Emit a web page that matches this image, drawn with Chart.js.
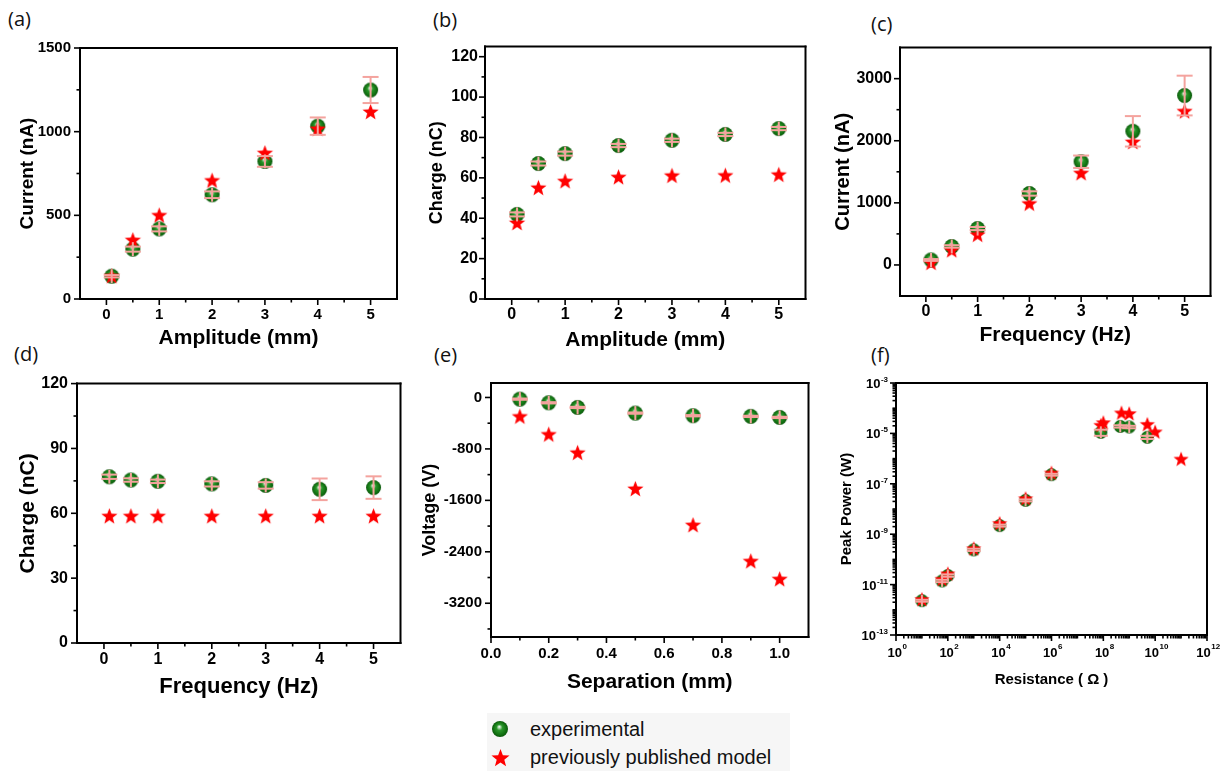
<!DOCTYPE html>
<html>
<head>
<meta charset="utf-8">
<script src="https://cdn.jsdelivr.net/npm/chart.js@4.4.1/dist/chart.umd.min.js"></script>
<style>
  body { margin: 0; background: #fff; width: 1227px; height: 771px; position: relative; overflow: hidden; font-family: 'Liberation Sans', Arial, sans-serif; }
  .tag { position: absolute; font: 20px 'Open Sans', sans-serif; line-height: 1; color: #111; }
  #legend { position: absolute; left: 487px; top: 713px; width: 303px; height: 58px; background: #f6f6f6; }
  #legend canvas { position: absolute; }
  #legend span { position: absolute; left: 43px; font: 20px 'Liberation Sans', Arial, sans-serif; color: #111; line-height: 1; }
</style>
</head>
<body>
<div class="tag" style="left:8px;top:9px">(a)</div>
<div class="tag" style="left:433px;top:10px">(b)</div>
<div class="tag" style="left:871px;top:14px">(c)</div>
<div class="tag" style="left:14px;top:344px">(d)</div>
<div class="tag" style="left:434px;top:345px">(e)</div>
<div class="tag" style="left:871px;top:345px">(f)</div>
<div id="legend">
  <span style="top:6px">experimental</span>
  <span style="top:34px">previously published model</span>
</div>
<script>
// x positions
const ampX  = [0.1, 0.5, 1, 2, 3, 4, 5];
const freqX = [0.1, 0.5, 1, 2, 3, 4, 5];
const sepX  = [0.1, 0.2, 0.3, 0.5, 0.7, 0.9, 1.0];

// (a) current vs amplitude
const curAmpExp   = [136, 298, 419, 623, 822, 1033, 1249];
const curAmpErr   = [7, 15, 15, 20, 32, 52, 78];
const curAmpModel = [140, 355, 503, 711, 875, 1020, 1121];

// (b) charge vs amplitude
const chgAmpExp   = [41.9, 67.1, 72.0, 76.0, 78.6, 81.5, 84.4];
const chgAmpErr   = [1, 1, 1, 0.8, 0.8, 0.8, 0.8];
const chgAmpModel = [37.9, 55.3, 58.6, 60.6, 61.3, 61.4, 61.8];

// (c) current vs frequency
const curFreqExp   = [80, 298, 586, 1151, 1662, 2152, 2728];
const curFreqErr   = [15, 20, 25, 35, 100, 245, 320];
const curFreqModel = [43, 245, 495, 996, 1486, 1987, 2483];

// (d) charge vs frequency
const chgFreqExp   = [76.9, 75.4, 74.8, 73.6, 72.9, 71.1, 71.9];
const chgFreqErr   = [1, 0.8, 0.8, 1.2, 1.5, 5, 5.2];
const chgFreqModel = [58.9, 58.9, 58.9, 58.9, 58.9, 58.9, 58.9];

// (e) voltage vs separation
const voltExp   = [-26, -83, -155, -243, -284, -294, -310];
const voltErr   = [10, 10, 10, 10, 10, 10, 10];
const voltModel = [-289, -568, -852, -1414, -1977, -2539, -2818];

// (f) peak power vs resistance
const resExpX   = [10, 60, 100, 1e3, 1e4, 1e5, 1e6, 8e7, 4.5e8, 1e9, 5e9];
const powExp    = [2.3e-12, 1.4e-11, 2.3e-11, 2.4e-10, 2.2e-9, 2.2e-8, 2.3e-7, 1.1e-5, 1.9e-5, 1.8e-5, 7e-6];
const powErr    = [2e-13, 1.5e-12, 2.5e-12, 2.5e-11, 2e-10, 2e-9, 2e-8, 3e-6, 2e-6, 2e-6, 1e-6];
const resModelX = [10, 60, 100, 1e3, 1e4, 1e5, 1e6, 8e7, 1e8, 5e8, 1e9, 5e9, 1e10, 1e11];
const powModel  = [2.7e-12, 1.7e-11, 2.8e-11, 2.8e-10, 2.8e-9, 2.7e-8, 2.8e-7, 2.2e-5, 2.8e-5, 6.8e-5, 6.4e-5, 2.4e-5, 1.2e-5, 1e-6];

// tick labels
const ticks05    = [0, 1, 2, 3, 4, 5];
const ticks05Min = [0.5, 1.5, 2.5, 3.5, 4.5];
const ticksCurA  = [0, 500, 1000, 1500];
const ticksCurAMin = [250, 750, 1250];
const ticksChgA  = [0, 20, 40, 60, 80, 100, 120];
const ticksChgAMin = [10, 30, 50, 70, 90, 110];
const ticksCurF  = [0, 1000, 2000, 3000];
const ticksCurFMin = [500, 1500, 2500];
const ticksChgF  = [0, 30, 60, 90, 120];
const ticksChgFMin = [15, 45, 75, 105];
const ticksVolt  = [0, -800, -1600, -2400, -3200];
const ticksVoltMin = [-400, -1200, -2000, -2800, -3600];
const ticksSep   = [0, 0.2, 0.4, 0.6, 0.8, 1.0];
const ticksSepMin = [0.1, 0.3, 0.5, 0.7, 0.9];
const powExpTicks = [-3, -5, -7, -9, -11, -13];
const resExpTicks = [0, 2, 4, 6, 8, 10, 12];

const FONT = "'Liberation Sans', Arial, sans-serif";
const ERR = '#f4a39e';

function sphere(r) {
  const c = document.createElement('canvas');
  const s = Math.ceil(r * 2 + 2);
  c.width = c.height = s;
  const g = c.getContext('2d'), m = s / 2;
  const grd = g.createRadialGradient(m - r * 0.1, m - r * 0.3, 0, m, m, r);
  grd.addColorStop(0, '#ffffff');
  grd.addColorStop(0.14, '#b4dcb4');
  grd.addColorStop(0.38, '#2a962a');
  grd.addColorStop(0.8, '#117011');
  grd.addColorStop(1, '#0a560a');
  g.fillStyle = grd;
  g.beginPath(); g.arc(m, m, r, 0, Math.PI * 2); g.fill();
  return c;
}

function star(r) {
  const c = document.createElement('canvas');
  const s = Math.ceil(r * 2 + 2);
  c.width = c.height = s;
  const g = c.getContext('2d'), m = s / 2;
  g.fillStyle = '#ff0000';
  g.beginPath();
  for (let i = 0; i < 10; i++) {
    const rr = i % 2 ? r * 0.42 : r;
    const a = -Math.PI / 2 + i * Math.PI / 5;
    g.lineTo(m + rr * Math.cos(a), m + 1 + rr * Math.sin(a));
  }
  g.closePath(); g.fill();
  return c;
}

const pts = (xs, ys) => xs.map((x, i) => ({ x, y: ys[i] }));

function seg(ctx, x0, y0, x1, y1) {
  ctx.beginPath(); ctx.moveTo(x0, y0); ctx.lineTo(x1, y1); ctx.stroke();
}

function drawErrors(chart, o) {
  const ctx = chart.ctx;
  const ys = chart.scales.y;
  chart.data.datasets.forEach((ds, di) => {
    if (!ds.errors) return;
    const meta = chart.getDatasetMeta(di);
    ctx.save();
    ctx.strokeStyle = ERR;
    ctx.lineWidth = 2;
    meta.data.forEach((p, i) => {
      const v = ds.data[i].y, e = ds.errors[i];
      const yt = ys.getPixelForValue(v + e), yb = ys.getPixelForValue(v - e);
      seg(ctx, p.x, Math.min(yt, p.y - o.stem), p.x, Math.max(yb, p.y + o.stem));
      seg(ctx, p.x - o.cap, yt, p.x + o.cap, yt);
      seg(ctx, p.x - o.cap, yb, p.x + o.cap, yb);
    });
    ctx.restore();
  });
}

function drawFrame(chart, o) {
  const ctx = chart.ctx;
  const x = chart.scales.x, y = chart.scales.y;
  const l = x.left, r = x.right, t = y.top, b = y.bottom;
  ctx.save();
  ctx.strokeStyle = '#000000';
  ctx.lineWidth = 2;
  ctx.lineCap = 'square';
  seg(ctx, l, t, r, t);
  seg(ctx, r, t, r, b);
  seg(ctx, l, b, r, b);
  seg(ctx, l, t, l, b);
  ctx.lineCap = 'butt';
  ctx.lineWidth = 1.6;
  const xt = (vals, len) => vals.forEach(v => {
    const px = x.getPixelForValue(v);
    if (px < l - 0.5 || px > r + 0.5) return;
    seg(ctx, px, b, px, b + len);
  });
  const yt = (vals, len) => vals.forEach(v => {
    const py = y.getPixelForValue(v);
    if (py < t - 0.5 || py > b + 0.5) return;
    seg(ctx, l, py, l - len, py);
  });
  xt(o.xMajor, 6); xt(o.xMinor, 3.5);
  yt(o.yMajor, 6); yt(o.yMinor, 3.5);

  if (o.logLabels) {
    ctx.fillStyle = '#000';
    const big = 'bold 13px ' + FONT, small = 'bold 8px ' + FONT;
    ctx.textBaseline = 'alphabetic';
    o.xExp.forEach(e => {
      const px = x.getPixelForValue(10 ** e);
      ctx.font = big; const w1 = ctx.measureText('10').width;
      ctx.font = small; const w2 = ctx.measureText(String(e)).width;
      const x0 = px - (w1 + w2) / 2 + 1;
      ctx.textAlign = 'left';
      ctx.font = big; ctx.fillText('10', x0, b + 22);
      ctx.font = small; ctx.fillText(String(e), x0 + w1 + 0.5, b + 14);
    });
    o.yExp.forEach(e => {
      const py = y.getPixelForValue(10 ** e);
      ctx.font = small; const w2 = ctx.measureText(String(e)).width;
      const right = l - 8;
      ctx.textAlign = 'right';
      ctx.fillText(String(e), right, py - 1);
      ctx.font = big;
      ctx.fillText('10', right - w2 - 0.5, py + 5);
    });
  }
  ctx.restore();
}

function logMinors(lo, hi) {
  const out = [];
  for (let e = lo; e < hi; e++) for (let k = 2; k <= 9; k++) out.push(k * 10 ** e);
  return out;
}
function decades(lo, hi, step0) {
  const out = [];
  for (let e = lo; e <= hi; e++) if ((e - step0) % 2 !== 0) out.push(10 ** e);
  return out;
}

function panel(o) {
  const cv = document.createElement('canvas');
  const [bl, bt, br, bb] = o.box;
  const cw = br - bl, ch = bb - bt;
  cv.width = cw; cv.height = ch;
  cv.style.cssText = `position:absolute;left:${bl}px;top:${bt}px;width:${cw}px;height:${ch}px`;
  document.body.appendChild(cv);
  const [L, T, R, B] = o.area;
  const tf = o.tickFont, ylh = o.yTitleFont * 1.2, xlh = o.xTitleFont * 1.2;
  const deco = {
    xMajor: o.xMajor, xMinor: o.xMinor, yMajor: o.yMajor, yMinor: o.yMinor,
    cap: o.cap, stem: o.stem, logLabels: !!o.log, xExp: o.xExp, yExp: o.yExp
  };
  const plugin = {
    id: 'originDeco',
    afterDraw(chart) {
      drawFrame(chart, deco);
      drawErrors(chart, deco);
    }
  };
  new Chart(cv, {
    type: 'scatter',
    data: {
      datasets: [
        { data: pts(o.x, o.exp), errors: o.err, pointStyle: sphere(o.r), pointRadius: o.r, order: 2, clip: false },
        { data: pts(o.mx || o.x, o.model), pointStyle: star(o.sr), pointRadius: o.sr, order: 1, clip: false }
      ]
    },
    options: {
      responsive: false,
      animation: false,
      events: [],
      layout: { padding: { left: 0, top: T - bt, right: br - R, bottom: 0 } },
      plugins: { legend: { display: false }, tooltip: { enabled: false } },
      scales: {
        x: {
          type: o.log ? 'logarithmic' : 'linear',
          min: o.xRange[0], max: o.xRange[1],
          afterFit: s => { s.height = bb - B; },
          afterBuildTicks: s => { if (!o.log) s.ticks = o.xMajor.map(v => ({ value: v })); },
          grid: { display: false, drawTicks: false },
          border: { display: true, color: '#000', width: 2 },
          ticks: {
            display: !o.log, color: '#000', padding: o.xLabY - B - tf * 0.6,
            font: { family: FONT, size: tf, weight: 'bold' },
            maxRotation: 0, autoSkip: false, callback: o.xfmt || (v => String(v))
          },
          title: {
            display: true, text: o.xTitle, color: '#000',
            font: { family: FONT, size: o.xTitleFont, weight: 'bold' },
            padding: { top: 0, bottom: bb - o.xTitleY - xlh / 2 }
          }
        },
        y: {
          type: o.log ? 'logarithmic' : 'linear',
          min: o.yRange[0], max: o.yRange[1],
          afterFit: s => { s.width = L - bl; },
          afterBuildTicks: s => { if (!o.log) s.ticks = o.yMajor.map(v => ({ value: v })); },
          grid: { display: false, drawTicks: false },
          border: { display: true, color: '#000', width: 2 },
          ticks: {
            display: !o.log, color: '#000', padding: L - o.yLabR,
            font: { family: FONT, size: tf, weight: 'bold' },
            autoSkip: false, callback: v => String(v)
          },
          title: {
            display: true, text: o.yTitle, color: '#000',
            font: { family: FONT, size: o.yTitleFont, weight: 'bold' },
            padding: { top: o.yTitleX - bl - ylh / 2, bottom: 0 }
          }
        }
      }
    },
    plugins: [plugin]
  });
}

panel({
  box: [0, 30, 407, 355], area: [80, 43, 397, 299],
  x: ampX, exp: curAmpExp, err: curAmpErr, model: curAmpModel,
  xRange: [-0.5, 5.5], yRange: [0, 1500],
  xMajor: ticks05, xMinor: ticks05Min, yMajor: ticksCurA, yMinor: ticksCurAMin,
  tickFont: 15, yLabR: 71, xLabY: 315, yTitle: 'Current (nA)', yTitleX: 28, yTitleFont: 19,
  xTitle: 'Amplitude (mm)', xTitleY: 338, xTitleFont: 21, r: 7.5, sr: 8.5, cap: 8, stem: 7
});

panel({
  box: [410, 30, 815, 355], area: [485, 41, 807, 299],
  x: ampX, exp: chgAmpExp, err: chgAmpErr, model: chgAmpModel,
  xRange: [-0.5, 5.5], yRange: [0, 125],
  xMajor: ticks05, xMinor: ticks05Min, yMajor: ticksChgA, yMinor: ticksChgAMin,
  tickFont: 16, yLabR: 478, xLabY: 315, yTitle: 'Charge (nC)', yTitleX: 437, yTitleFont: 18,
  xTitle: 'Amplitude (mm)', xTitleY: 340, xTitleFont: 21, r: 7.5, sr: 8.5, cap: 8, stem: 7
});

panel({
  box: [820, 30, 1220, 355], area: [900, 45, 1212, 296],
  x: freqX, exp: curFreqExp, err: curFreqErr, model: curFreqModel,
  xRange: [-0.5, 5.5], yRange: [-500, 3500],
  xMajor: ticks05, xMinor: ticks05Min, yMajor: ticksCurF, yMinor: ticksCurFMin,
  tickFont: 16, yLabR: 892, xLabY: 312, yTitle: 'Current (nA)', yTitleX: 843, yTitleFont: 20,
  xTitle: 'Frequency (Hz)', xTitleY: 335, xTitleFont: 21, r: 7.5, sr: 8.5, cap: 8, stem: 7
});

panel({
  box: [0, 365, 410, 700], area: [77, 380, 402, 643],
  x: freqX, exp: chgFreqExp, err: chgFreqErr, model: chgFreqModel,
  xRange: [-0.5, 5.5], yRange: [0, 120],
  xMajor: ticks05, xMinor: ticks05Min, yMajor: ticksChgF, yMinor: ticksChgFMin,
  tickFont: 16, yLabR: 68, xLabY: 660, yTitle: 'Charge (nC)', yTitleX: 28, yTitleFont: 21,
  xTitle: 'Frequency (Hz)', xTitleY: 687, xTitleFont: 22, r: 7.5, sr: 8.5, cap: 8, stem: 7
});

panel({
  box: [410, 365, 818, 700], area: [491, 382, 810, 637],
  x: sepX, exp: voltExp, err: voltErr, model: voltModel,
  xRange: [0, 1.1], yRange: [-3725, 225],
  xMajor: ticksSep, xMinor: ticksSepMin, yMajor: ticksVolt, yMinor: ticksVoltMin,
  tickFont: 15, yLabR: 482, xLabY: 654, yTitle: 'Voltage (V)', yTitleX: 430, yTitleFont: 18,
  xTitle: 'Separation (mm)', xTitleY: 682, xTitleFont: 21, r: 7.5, sr: 8.5, cap: 8, stem: 7,
  xfmt: v => v.toFixed(1)
});

panel({
  box: [820, 365, 1220, 700], area: [896, 383, 1207, 635], log: true,
  x: resExpX, exp: powExp, err: powErr, mx: resModelX, model: powModel,
  xRange: [1, 1e12], yRange: [1e-13, 1e-3],
  xMajor: decades(0, 12, 1), xMinor: logMinors(0, 12).concat(decades(0, 12, 0)),
  yMajor: decades(-13, -3, -12), yMinor: logMinors(-13, -3).concat(decades(-13, -3, -13)),
  xExp: resExpTicks, yExp: powExpTicks,
  tickFont: 13, yLabR: 888, xLabY: 652, yTitle: 'Peak Power (W)', yTitleX: 847, yTitleFont: 15,
  xTitle: 'Resistance ( \u03A9 )', xTitleY: 680, xTitleFont: 15, r: 6.5, sr: 8, cap: 7, stem: 6
});

// legend icons
const leg = document.getElementById('legend');
[[sphere(8), 16], [star(9.5), 44]].forEach(([c, cy]) => {
  c.style.left = (13 - c.width / 2) + 'px';
  c.style.top = (cy - c.height / 2) + 'px';
  leg.appendChild(c);
});
</script>
</body>
</html>
